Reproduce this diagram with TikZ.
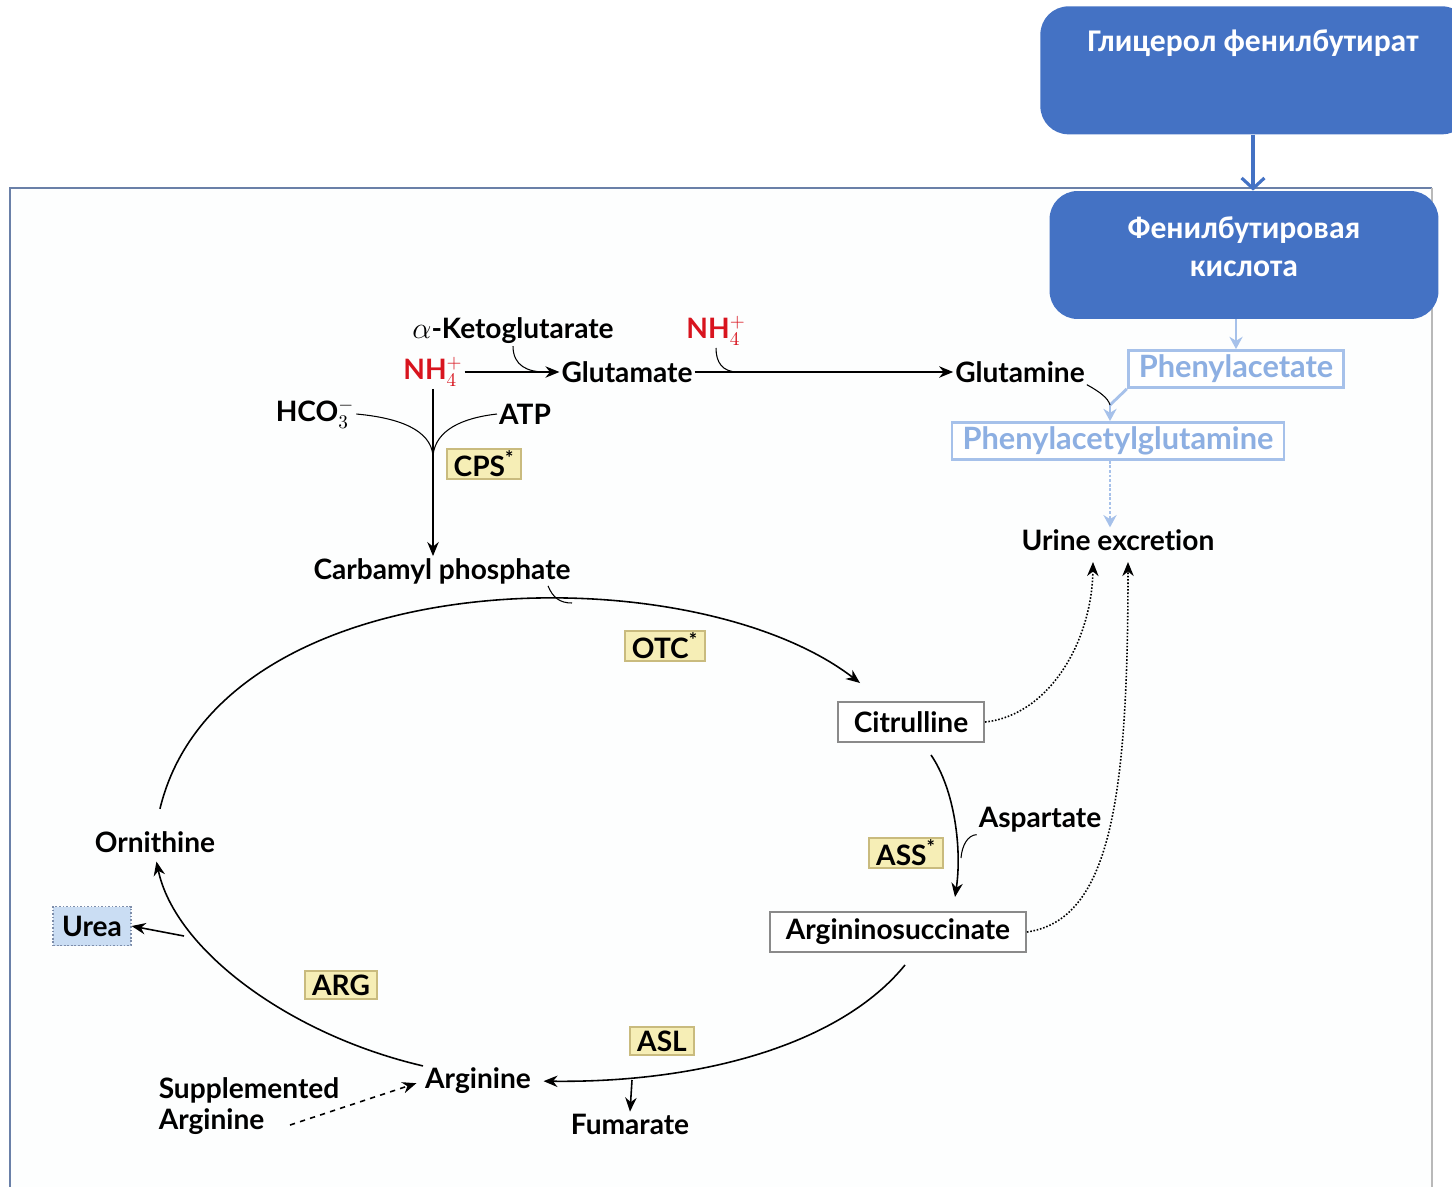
\documentclass[tikz,border=0pt]{standalone}
\usepackage{fontspec}
\newfontfamily\diafont{Lato}[Ligatures=NoCommon]
\newfontfamily\rufont{Carlito}
\usetikzlibrary{arrows.meta,positioning}
\definecolor{RuBlue}{HTML}{4472C4}
\definecolor{PaleLine}{HTML}{A6C1EA}
\definecolor{PaleText}{HTML}{8DAFE2}
\definecolor{NHRed}{HTML}{D8141E}
\definecolor{EnzFill}{HTML}{F6EEB6}
\definecolor{EnzDraw}{HTML}{C9BB7E}
\definecolor{UreaFill}{HTML}{CADDF3}
\definecolor{UreaDraw}{HTML}{7D8DAA}
\definecolor{BoxGray}{HTML}{8A8A8A}
\definecolor{FrameFill}{HTML}{FDFEFE}
\definecolor{FrameEdge}{HTML}{6A80A8}

\begin{document}
\begin{tikzpicture}[x=0.02cm,y=-0.02cm,
  met/.style={font=\diafont\bfseries\fontsize{16}{18}\selectfont, inner sep=1pt},
  metbox/.style={met, draw=BoxGray, line width=1.1pt, fill=white, inner xsep=9pt, minimum height=0.8cm},
  enz/.style={met, draw=EnzDraw, fill=EnzFill, line width=1pt, inner xsep=4pt, minimum height=0.56cm},
  drug/.style={font=\diafont\bfseries\fontsize{17.5}{19}\selectfont, draw=PaleLine, line width=1.6pt, text=PaleText, fill=white, inner xsep=6pt, inner ysep=1pt, minimum height=0.74cm},
  urea/.style={met, draw=UreaDraw, fill=UreaFill, densely dotted, line width=1pt, inner xsep=5pt, minimum height=0.78cm},
  rubox/.style={fill=RuBlue, rounded corners=16pt, inner sep=0pt},
  rutext/.style={text=white, font=\rufont\bfseries\fontsize{18}{21.5}\selectfont, align=center},
  flow/.style={line width=0.9pt, -{Stealth[length=8pt,width=6.5pt]}},
  feed/.style={line width=0.6pt},
  pflow/.style={PaleLine, line width=1.6pt, -{Stealth[length=7pt,width=7.5pt]}},
  ruarrow/.style={RuBlue, line width=1.8pt, -{Straight Barb[length=6pt,width=13pt]}}]
  \useasboundingbox (0,0) rectangle (1452,1186);

  % Frame of the scheme
  \fill[FrameFill] (10,188) rectangle (1432,1190);
  \draw[FrameEdge, line width=1.6pt] (10,1190) -- (10,188) -- (1432,188);
  \draw[BoxGray!60, line width=0.6pt] (1432,188) -- (1432,1190);

  % Drug boxes
  \node[rubox, minimum width=8.6cm, minimum height=2.56cm, anchor=north west] (glycbox) at (1040,6) {};
  \node[rutext] (glyc) at (1253,43) {Глицерол фенилбутират};
  \node[rubox, minimum width=7.78cm, minimum height=2.56cm] (pba) at (1244,255) {};
  \node[rutext] (pbatxt) at (1244,247) {Фенилбутировая\\кислота};
  \draw[ruarrow] (glyc |- glycbox.south) -- (glyc |- pba.north);

  % Metabolites
  \node[met] (akg) at (513,331) {$\alpha$-Ketoglutarate};
  \node[met, text=NHRed] (nh1) at (433,372) {NH$^+_4$};
  \node[met] (glu) at (627,372) {Glutamate};
  \node[met, text=NHRed] (nh2) at (716,331) {NH$^+_4$};
  \node[met] (gln) at (1020,372) {Glutamine};
  \node[drug] (pa) at (1236,369) {Phenylacetate};
  \node[drug] (pag) at (1118,441) {Phenylacetylglutamine};
  \node[met] (urine) at (1118,540) {Urine excretion};
  \node[met] (hco) at (315,414) {HCO$_3^-$};
  \node[met] (atp) at (525,414) {ATP};
  \node[enz] (cps) at (484,464) {CPS\textsuperscript{*}};
  \node[met] (cp) at (442,571) {Carbamyl phosphate};
  \node[enz] (otc) at (665,646) {OTC\textsuperscript{*}};
  \node[metbox] (cit) at (911,722) {Citrulline};
  \node[met] (asp) at (1040,820) {Aspartate};
  \node[enz] (ass) at (906,853) {ASS\textsuperscript{*}};
  \node[metbox] (asa) at (898,932) {Argininosuccinate};
  \node[enz] (asl) at (662,1041) {ASL};
  \node[met] (arg) at (478,1081) {Arginine};
  \node[met] (fum) at (630,1124) {Fumarate};
  \node[enz] (argase) at (341,985) {ARG};
  \node[met] (orn) at (155,842) {Ornithine};
  \node[urea] (urea) at (92,926) {Urea};
  \node[met, align=left] (supp) at (249,1106) {Supplemented\\Arginine};

  % Glutamate and glutamine
  \coordinate (j1) at (545,372);
  \coordinate (j2) at (738,372);
  \draw[flow] (nh1.east) -- (glu.west);
  \draw[feed] (akg.south) .. controls (513,366) and (528,372) .. (j1);
  \draw[flow] (glu.east) -- (gln.west);
  \draw[feed] (nh2.south) .. controls (716,362) and (722,372) .. (j2);

  % Phenylacetate route
  \coordinate (j3) at (1110,405);
  \draw[pflow] (pba.south -| pa) -- (pa.north);
  \draw[PaleLine, line width=1.6pt] (pa.south west) -- (j3);
  \draw[pflow] (j3) -- (j3 |- pag.north);
  \draw[feed] (gln.south east) .. controls (1100,392) and (1108,398) .. (j3);
  \draw[pflow, densely dotted] (j3 |- pag.south) -- (j3 |- urine.north);

  % Carbamyl phosphate
  \coordinate (j4) at (433,455);
  \draw[flow] (nh1.south) -- (nh1.south |- cp.north);
  \draw[feed] (hco.east) .. controls (400,418) and (430,430) .. (j4);
  \draw[feed] (atp.west) .. controls (462,418) and (436,430) .. (j4);

  % Cycle
  \coordinate (j5) at (572,603);
  \coordinate (citin) at (860,683);
  \coordinate (asain) at (955,897);
  \coordinate (j6) at (961,858);
  \coordinate (j7) at (632,1080);
  \coordinate (j8) at (184,936);
  \draw[flow, shorten <=12pt] (orn.north) .. controls (220,560) and (690,552) .. (citin);
  \draw[feed] (cp.south) ++(106,0) .. controls +(5,12) and (560,603) .. (j5);
  \draw[flow] (cit.south) ++(20,12) .. controls (955,790) and (962,850) .. (asain);
  \draw[feed] (asp.south west) .. controls (968,835) and (962,845) .. (j6);
  \draw[flow, shorten >=6pt] (asa.south) ++(7,12) .. controls (840,1045) and (700,1083) .. (arg.east);
  \draw[flow] (j7) -- (fum.north);
  \draw[flow, shorten >=4pt] (arg.north west) .. controls (290,1035) and (175,950) .. (orn.south);
  \draw[flow] (j8) -- (urea.east);

  % To urine
  \coordinate (uin1) at (1093,562);
  \coordinate (uin2) at (1128,562);
  \coordinate (suppout) at (290,1125);
  \draw[flow, densely dotted] (cit.east) .. controls (1050,715) and (1092,640) .. (uin1);
  \draw[flow, densely dotted] (asa.east) .. controls (1110,920) and (1128,800) .. (uin2);
  \draw[flow, dashed, shorten >=4pt] (suppout) -- (arg.west);
\end{tikzpicture}
\end{document}
